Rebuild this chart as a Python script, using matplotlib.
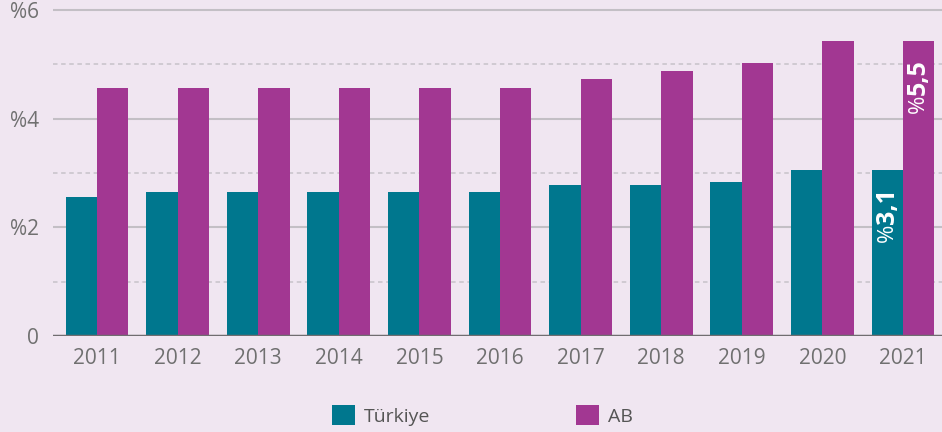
import matplotlib
matplotlib.use("Agg")
import matplotlib.pyplot as plt
from matplotlib.patches import Patch
import numpy as np

years = ["2011", "2012", "2013", "2014", "2015", "2016", "2017", "2018", "2019", "2020", "2021"]
turkiye = [2.56, 2.65, 2.65, 2.65, 2.65, 2.65, 2.78, 2.78, 2.84, 3.06, 3.06]
ab = [4.57, 4.57, 4.57, 4.57, 4.57, 4.57, 4.73, 4.88, 5.03, 5.43, 5.43]
series_names = ["Türkiye", "AB"]
ytick_vals = [0, 2, 4, 6]
ytick_labels = ["0", "%2", "%4", "%6"]
last_labels = ["3,1", "5,5"]

BG = "#f0e6f1"
TEAL = "#00778e"
MAG = "#a23792"
GRAY = "#707070"

plt.rcParams["font.family"] = ["Open Sans", "DejaVu Sans"]

fig = plt.figure(figsize=(9.42, 4.32), dpi=100, facecolor=BG)
H = 432.0
ymax = 6.05
top_px = 10 - 0.05 * 54.3
ax = fig.add_axes([53 / 942, 96 / H, 1 - 53 / 942, (336 - top_px) / H])
ax.set_facecolor(BG)

x = np.arange(len(years))
w = 0.39
ax.bar(x - w / 2, turkiye, width=w, color=TEAL, zorder=3)
ax.bar(x + w / 2, ab, width=w, color=MAG, zorder=3)

ax.set_xlim(-0.546, 10.484)
ax.set_ylim(0, ymax)

for v in [2, 4, 6]:
    ax.axhline(v, color="#c3bfc5", lw=1.5, zorder=1)
for v in [1, 3, 5]:
    ax.axhline(v, color="#cdc8cf", lw=1.3, ls=(0, (2.5, 2)), zorder=1)
ax.axhline(0, color="#706d70", lw=2.5, zorder=4)

for s in ax.spines.values():
    s.set_visible(False)

ax.set_yticks(ytick_vals)
ax.set_yticklabels(ytick_labels, fontsize=15, color=GRAY)
ax.set_xticks(x)
ax.set_xticklabels(years, fontsize=15, color=GRAY)
ax.tick_params(axis="y", length=0, pad=10)
ax.tick_params(axis="x", length=0, pad=9)

# value labels on last bars
last = len(years) - 1
for xpos, val, lab in [(x[last] - w / 2, turkiye[last], last_labels[0]),
                       (x[last] + w / 2, ab[last], last_labels[1])]:
    ax.annotate(lab, xy=(xpos, val), xytext=(0, -18), textcoords="offset pixels",
                rotation=90, ha="center", va="top", color="white",
                fontsize=18, fontweight="bold", zorder=5)
    ax.annotate("%", xy=(xpos, val), xytext=(0, -54), textcoords="offset pixels",
                rotation=90, ha="center", va="top", color="white",
                fontsize=16, zorder=5)

handles = [Patch(facecolor=TEAL, edgecolor="none"), Patch(facecolor=MAG, edgecolor="none")]
leg = fig.legend(handles, series_names, loc="center", bbox_to_anchor=(0.512, 0.038),
                 ncol=2, frameon=False, fontsize=14, handlelength=1.2, handleheight=1.2,
                 handletextpad=0.45, columnspacing=7.5, labelcolor="#555555")

fig.savefig("out.png", dpi=100, facecolor=BG)
